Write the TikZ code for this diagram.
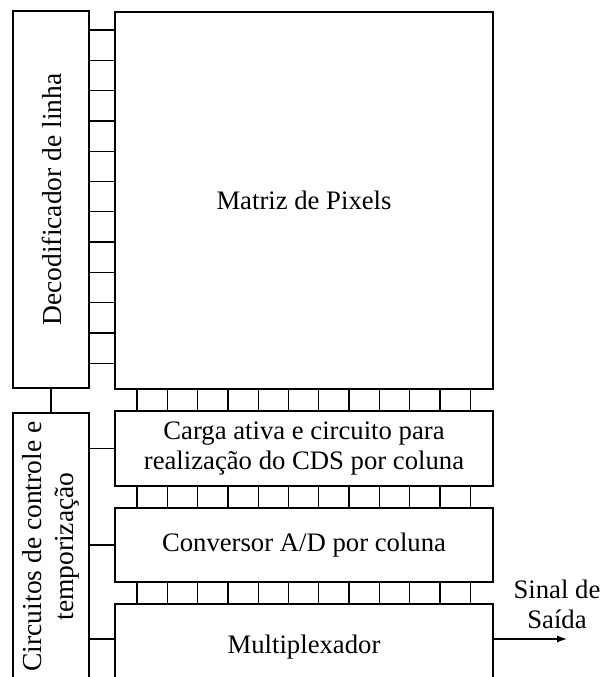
\documentclass[tikz,border=0pt]{standalone}
\usepackage{fontspec}
\setmainfont{Liberation Serif}
\usetikzlibrary{arrows.meta}
\tikzset{
  bloco/.style={draw, line width=1.5pt, inner sep=0pt, align=center},
  fio/.style={line width=1.3pt},
  vertical/.style={rotate=90, align=center, font=\fontsize{27.5}{32}\selectfont}
}
\begin{document}
\begin{tikzpicture}[x=1pt,y=-1pt,font=\fontsize{26.7}{30}\selectfont]
        \useasboundingbox (0,0) rectangle (605,677);
        \clip (0,0) rectangle (605,677);
        \node[bloco, minimum width=76pt, minimum height=377pt] (dec) at (51,199.5) {};
        \node[vertical] at ([xshift=1pt]dec.center) {Decodificador de linha};
        \node[bloco, minimum width=378pt, minimum height=377pt] (mat) at (304,200.5) {Matriz de Pixels};
        \node[bloco, minimum width=76pt, minimum height=267pt] (ctl) at (51,546.5) {};
        \node[vertical] at (ctl.center) {Circuitos de controle e\\temporização};
        \node[bloco, minimum width=378pt, minimum height=75pt] (cds) at (304,448.5) {Carga ativa e circuito para\\realização do CDS por coluna};
        \node[bloco, minimum width=378pt, minimum height=74pt] (adc) at (304,545) {Conversor A/D por coluna};
        \node[bloco, minimum width=378pt, minimum height=86pt] (mux) at (304,647) {Multiplexador};
        \node[align=center] (saida) at (557,604) {Sinal de\\Saída};
        % linhas do decodificador
        \foreach \i in {0,...,11}
            \draw[fio] (dec.east |- 0,30+30.3*\i) -- (mat.west |- 0,30+30.3*\i);
        % colunas
        \foreach \i in {0,...,11} {
            \draw[fio] (mat.south -| 137+30.3*\i,0) -- (cds.north -| 137+30.3*\i,0);
            \draw[fio] (cds.south -| 137+30.3*\i,0) -- (adc.north -| 137+30.3*\i,0);
            \draw[fio] (adc.south -| 137+30.3*\i,0) -- (mux.north -| 137+30.3*\i,0);
        }
        \draw[fio] (dec.south) -- (ctl.north);
        \draw[fio] (ctl.east |- cds.west) -- (cds.west);
        \draw[fio] (ctl.east |- adc.west) -- (adc.west);
        \draw[fio] (ctl.east |- 0,639) -- (mux.west |- 0,639);
        \coordinate (fim) at (567,639);
        \draw[fio] [-{Latex[length=10pt,width=7pt]}] (mux.east |- fim) -- (fim);
    \end{tikzpicture}
\end{document}
